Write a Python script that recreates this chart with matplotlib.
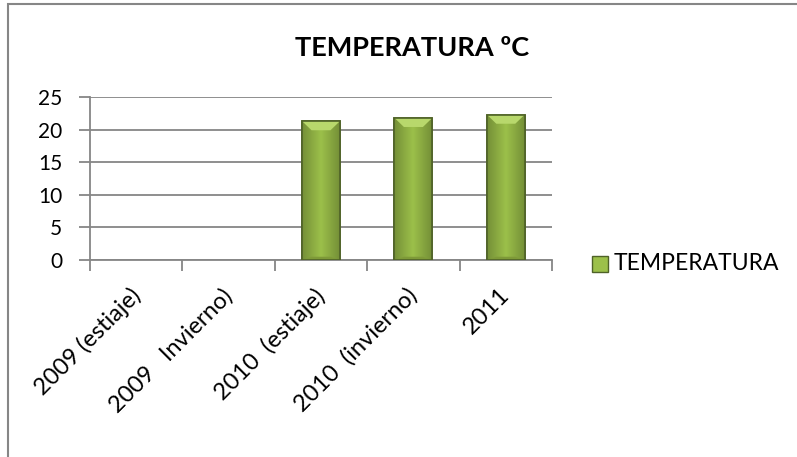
import matplotlib
matplotlib.use("Agg")
import matplotlib.pyplot as plt
import matplotlib.transforms as mtransforms
from matplotlib.patches import Rectangle
import numpy as np

categories = ["2009 (estiaje)", "2009   Invierno)", "2010  (estiaje)", "2010  (invierno)", "2011"]
values = [np.nan, np.nan, 21.3, 21.8, 22.3]
yticks = [0, 5, 10, 15, 20, 25]
series_name = "TEMPERATURA"
title = "TEMPERATURA ºC"

plt.rcParams['font.family'] = ['Lato', 'DejaVu Sans']
W, H = 797, 457
fig = plt.figure(figsize=(W/100, H/100), dpi=100)
fig.patch.set_facecolor("white")

# chart border (only left and top visible)
fig.add_artist(Rectangle((8/W, -0.05), 1.2, (H-4)/H + 0.05, transform=fig.transFigure,
                         fill=False, edgecolor="#868686", linewidth=1.5))

ax = fig.add_axes([90/W, 1-260/H, (552-90)/W, (260-97)/H])
x = np.arange(len(categories))
bars = ax.bar(x, values, width=0.41, color="#9ABB48", edgecolor="#4F6228", linewidth=1.2, zorder=3)

# subtle bevel shading on bars
for b, v in zip(bars, values):
    if np.isnan(v):
        continue
    x0, w = b.get_x(), b.get_width()
    grad = np.linspace(0, 1, 50)
    shade = 1 - 0.25*np.abs(grad - 0.5)*2
    img = np.zeros((1, 50, 3))
    base = np.array([0x9C, 0xC0, 0x4A]) / 255
    img[0] = base[None, :] * shade[:, None]
    im = ax.imshow(img, extent=[x0, x0 + w, 0, v], aspect="auto", zorder=3.5)
    im.set_clip_path(b)
    ax.fill([x0, x0 + w, x0 + w*0.75, x0 + w*0.25], [0, 0, 0.5, 0.5],
            color="#7E9A38", zorder=4.4, linewidth=0)
    ax.fill([x0, x0 + w, x0 + w*0.75, x0 + w*0.25], [v, v, v - 1.4, v - 1.4],
            color="#B8D86C", zorder=4.5, linewidth=0)
    ax.add_patch(Rectangle((x0, 0), w, v, fill=False, edgecolor="#4F6228", linewidth=1.2, zorder=5))

ax.set_xlim(-0.5, len(categories) - 0.5)
ax.set_ylim(0, 25)
ax.set_yticks(yticks)
ax.set_yticklabels([str(t) for t in yticks], fontsize=15)
ax.grid(axis="y", color="#868686", linewidth=1.3, zorder=0)
ax.set_axisbelow(True)

ax.set_xticks(x)
ax.set_xticklabels(categories, rotation=45, ha="right", va="top", rotation_mode="anchor", fontsize=17)
ax.tick_params(axis="x", length=0, pad=17)
shift = mtransforms.ScaledTranslation(-7/100, -1/100, fig.dpi_scale_trans)
for lbl in ax.get_xticklabels():
    lbl.set_transform(lbl.get_transform() + shift)
ax.set_xticks(np.arange(-0.5, len(categories)), minor=True)
ax.tick_params(axis="x", which="minor", length=8, color="#868686", width=1.3, direction="out")
ax.tick_params(axis="y", length=8, color="#868686", width=1.3, direction="out", pad=12)

for s in ["top", "right"]:
    ax.spines[s].set_visible(False)
for s in ["left", "bottom"]:
    ax.spines[s].set_color("#868686")
    ax.spines[s].set_linewidth(1.3)

fig.text(412/W, 1-48/H, title, fontsize=19.5, fontweight="bold", ha="center", va="center")

# legend
fig.add_artist(Rectangle((592/W, 1-272/H), 16/W, 16/H, transform=fig.transFigure,
                         facecolor="#9CC04A", edgecolor="#4F6228", linewidth=1))
fig.text(614/W, 1-264/H, series_name, fontsize=16.5, ha="left", va="center")

fig.savefig("out.png", dpi=100, facecolor="white")
